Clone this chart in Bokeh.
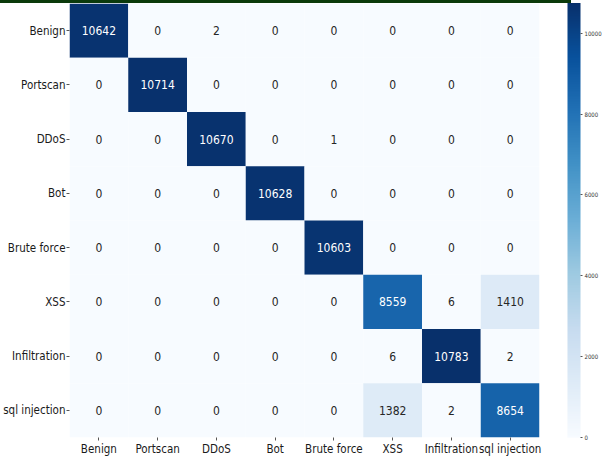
from bokeh.plotting import figure
from bokeh.models import (ColumnDataSource, LinearColorMapper, ColorBar,
                          FixedTicker, Div)
from bokeh.layouts import column
from bokeh.palettes import Blues256
from bokeh.transform import transform
from bokeh.embed import file_html
from bokeh.resources import INLINE

# Confusion matrix: rows are true classes, columns are predicted classes
classes = ["Benign", "Portscan", "DDoS", "Bot", "Brute force",
           "XSS", "Infiltration", "sql injection"]

row_benign = [10642, 0, 2, 0, 0, 0, 0, 0]
row_portscan = [0, 10714, 0, 0, 0, 0, 0, 0]
row_ddos = [0, 0, 10670, 0, 1, 0, 0, 0]
row_bot = [0, 0, 0, 10628, 0, 0, 0, 0]
row_brute = [0, 0, 0, 0, 10603, 0, 0, 0]
row_xss = [0, 0, 0, 0, 0, 8559, 6, 1410]
row_infiltration = [0, 0, 0, 0, 0, 6, 10783, 2]
row_sql = [0, 0, 0, 0, 0, 1382, 2, 8654]

matrix = [row_benign, row_portscan, row_ddos, row_bot,
          row_brute, row_xss, row_infiltration, row_sql]

colorbar_ticks = [0, 2000, 4000, 6000, 8000, 10000]

FONT = "DejaVu Sans Condensed"

vmax = max(max(r) for r in matrix)

xs, ys, vals, labels, text_colors = [], [], [], [], []
for true_cls, row in zip(classes, matrix):
    for pred_cls, v in zip(classes, row):
        xs.append(pred_cls)
        ys.append(true_cls)
        vals.append(v)
        labels.append(str(v))
        text_colors.append("#ffffff" if v > 0.55 * vmax else "#262626")

src = ColumnDataSource(dict(x=xs, y=ys, v=vals, label=labels, tc=text_colors))

mapper = LinearColorMapper(palette=list(reversed(Blues256)), low=0, high=vmax)

p = figure(width=604, height=455, x_range=classes,
           y_range=list(reversed(classes)),
           output_backend="svg", toolbar_location=None,
           min_border_left=67, min_border_right=62,
           min_border_top=0, min_border_bottom=21)
p.outline_line_color = None
p.grid.grid_line_color = None
p.background_fill_color = "#ffffff"

p.rect(x="x", y="y", width=1, height=1, source=src,
       fill_color=transform("v", mapper), line_color=None)

p.text(x="x", y="y", text="label", source=src, text_color="tc",
       text_align="center", text_baseline="middle",
       text_font={"value": FONT}, text_font_size="12px")

for ax in (p.xaxis, p.yaxis):
    ax.axis_line_color = None
    ax.major_tick_line_color = "#555555"
    ax.major_tick_in = 0
    ax.major_tick_out = 3
    ax.major_label_text_font = FONT
    ax.major_label_text_font_size = "11.5px"
    ax.major_label_text_color = "#1a1a1a"
    ax.major_label_standoff = 1
    ax.minor_tick_line_color = None

cb = ColorBar(color_mapper=mapper, ticker=FixedTicker(ticks=colorbar_ticks),
              width=13, height=436, margin=0, padding=0,
              location=(28, 0),
              bar_line_color=None, border_line_color=None,
              background_fill_color=None,
              major_tick_line_color="#555555", major_tick_in=0,
              major_tick_out=2, minor_tick_line_color=None,
              major_label_text_font=FONT,
              major_label_text_font_size="6px",
              major_label_text_color="#333333",
              label_standoff=2)
p.add_layout(cb, "right")

top_band = Div(width=571, height=3, margin=0,
               styles={"background-color": "#0b3a0b"})

layout = column(top_band, p, spacing=0)

open("out.html", "w").write(file_html(layout, INLINE))
